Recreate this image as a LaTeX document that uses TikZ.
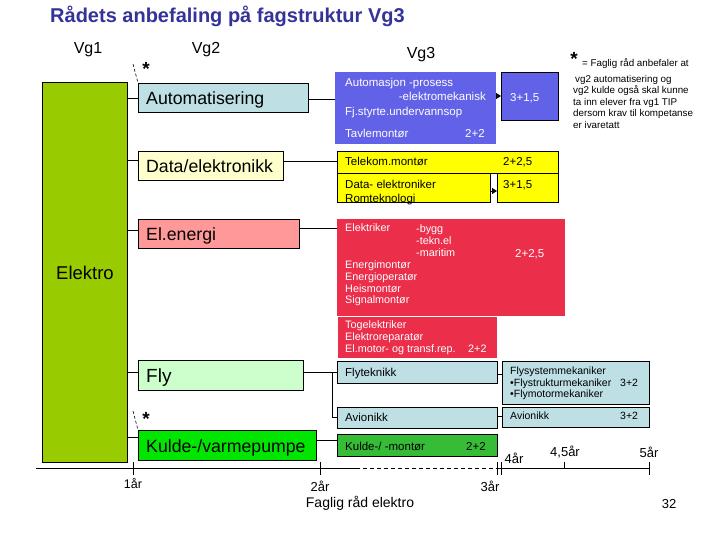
\documentclass[tikz,border=0pt]{standalone}
\usepackage{fontspec}
\setmainfont{Liberation Sans}
\usetikzlibrary{arrows.meta}
\definecolor{titleblue}{HTML}{333399}
\definecolor{elgreen}{HTML}{99CC00}
\definecolor{lblue}{HTML}{BEDFE4}
\definecolor{lyellow}{HTML}{FFFFCC}
\definecolor{lpink}{HTML}{FF9999}
\definecolor{mint}{HTML}{CCFFCC}
\definecolor{bgreen}{HTML}{00E600}
\definecolor{vblue}{HTML}{6262E8}
\definecolor{vyellow}{HTML}{FFFF00}
\definecolor{vred}{HTML}{EB2F4B}
\definecolor{mgreen}{HTML}{36BC36}
\begin{document}
\begin{tikzpicture}[x=1pt,y=-1pt,
  box/.style={draw=black, line width=0.8pt, inner sep=0pt, outer sep=0pt, anchor=north west},
  nobox/.style={inner sep=0pt, outer sep=0pt, anchor=north west},
  conn/.style={line width=0.8pt},
  tri/.style={line width=0.8pt, -{Triangle[length=5pt,width=6pt]}},
  ttl/.style={font=\fontsize{20}{22}\selectfont\bfseries, text=titleblue, anchor=west, inner sep=0pt},
  hdr/.style={font=\fontsize{16}{18}\selectfont, inner sep=0pt},
  lbl/.style={anchor=base west, inner sep=0pt},
  big/.style={lbl, font=\fontsize{17.7}{20}\selectfont, yshift=-6.4pt},
  mid/.style={lbl, font=\fontsize{11.5}{13}\selectfont, yshift=-4.1pt},
  sml/.style={lbl, font=\fontsize{10.8}{12}\selectfont, yshift=-3.9pt},
  fsml/.style={lbl, font=\fontsize{10.5}{12}\selectfont, yshift=-3.8pt},
  note/.style={lbl, font=\fontsize{9.8}{11}\selectfont, yshift=-3.5pt},
  yr/.style={font=\fontsize{13}{15}\selectfont, inner sep=0pt},
  star/.style={font=\fontsize{19}{20}\selectfont\bfseries, inner sep=0pt}
]
\useasboundingbox (0,0) rectangle (720,540);
\fill[white] (0,0) rectangle (720,540);

% title and headers
\node[ttl] (title) at (50,16) {Rådets anbefaling på fagstruktur Vg3};
\node[hdr] (hvg1) at (88,50) {Vg1};
\node[hdr] (hvg2) at (206,50) {Vg2};
\node[hdr] (hvg3) at (421,55) {Vg3};

% Vg1
\node[box, fill=elgreen, minimum width=85, minimum height=380] (elektro) at (42,82) {};
\node[font=\fontsize{18.5}{20}\selectfont, inner sep=0pt] (elektrot) at (85,273) {Elektro};

% Vg2 boxes
\node[box, fill=lblue, minimum width=170, minimum height=29] (auto) at (138,83) {};
\node[big] (autot) at (146,98) {Automatisering};
\node[box, fill=lyellow, minimum width=145, minimum height=29] (data) at (138,151) {};
\node[big] (datat) at (146,166) {Data/elektronikk};
\node[box, fill=lpink, minimum width=161, minimum height=29] (elen) at (138,219) {};
\node[big] (elent) at (146,234) {El.energi};
\node[box, fill=mint, minimum width=165, minimum height=30] (fly) at (138,360) {};
\node[big, font=\fontsize{19}{21}\selectfont] (flyt0) at (146,376) {Fly};
\node[box, fill=bgreen, minimum width=178, minimum height=30] (kulde) at (138,430) {};
\node[big] (kuldet) at (146,446) {Kulde-/varmepumpe};

% stars near Vg2
\node[star] (star1) at (146,69) {*};
\node[star] (star2) at (146,419) {*};
\coordinate (s1) at (133,64);
\coordinate (s2) at (133,411);
\draw[densely dashed, line width=0.6pt] (s1) -- (auto.north west);
\draw[densely dashed, line width=0.6pt] (s2) -- (kulde.north west);

% Vg3 boxes
\node[nobox, fill=vblue, minimum width=161, minimum height=72] (autoA) at (335,72) {};
\node[box, fill=vblue, minimum width=57, minimum height=48] (autoS) at (501,72) {};
\node[mid, text=white] (a1) at (345,82) {Automasjon -prosess};
\node[mid, text=white, anchor=base east] (a2) at (486,96) {-elektromekanisk};
\node[mid, text=white] (a3) at (345,111) {Fj.styrte.undervannsop};
\node[mid, text=white] (a4) at (345,133) {Tavlemontør};
\node[mid, text=white] (a5) at (465,133) {2+2};
\node[mid, text=white] (a6) at (510,97) {3+1,5};

\node[box, fill=vyellow, minimum width=221, minimum height=22] (tele) at (337,151) {};
\node[mid] (te1) at (345,161) {Telekom.montør};
\node[mid] (te2) at (503,161) {2+2,5};
\node[box, fill=vyellow, minimum width=153, minimum height=29] (dataA) at (337,173) {};
\node[box, fill=vyellow, minimum width=61, minimum height=29] (dataS) at (497,173) {};
\node[mid] (d1) at (345,184) {Data- elektroniker};
\node[mid] (d2) at (345,198) {Romteknologi};
\node[mid] (d3) at (503,184) {3+1,5};

\node[nobox, fill=vred, minimum width=228, minimum height=97] (redA) at (337,219) {};
\node[nobox, fill=vred, draw=white, line width=0.6pt, minimum width=160, minimum height=42] (redB) at (337,316) {};
\node[sml, text=white] (r1) at (345,228) {Elektriker};
\node[sml, text=white] (r2) at (416,229) {-bygg};
\node[sml, text=white] (r3) at (416,241) {-tekn.el};
\node[sml, text=white] (r4) at (416,253) {-maritim};
\node[mid, text=white] (r5) at (515,253) {2+2,5};
\node[sml, text=white] (r6) at (345,265) {Energimontør};
\node[sml, text=white] (r7) at (345,277) {Energioperatør};
\node[sml, text=white] (r8) at (345,289) {Heismontør};
\node[sml, text=white] (r9) at (345,300) {Signalmontør};
\node[sml, text=white] (r10) at (345,325) {Togelektriker};
\node[sml, text=white] (r11) at (345,337) {Elektroreparatør};
\node[sml, text=white] (r12) at (345,349) {El.motor- og transf.rep.};
\node[sml, text=white] (r13) at (468,349) {2+2};

\node[box, fill=lblue, minimum width=160, minimum height=22] (flyt) at (337,361) {};
\node[mid] (f1) at (345,372) {Flyteknikk};
\node[box, fill=lblue, minimum width=160, minimum height=21] (avio) at (337,407) {};
\node[mid] (f2) at (345,417) {Avionikk};
\node[box, fill=mgreen, minimum width=160, minimum height=22] (kmont) at (337,434) {};
\node[mid] (k1) at (345,446) {Kulde-/ -montør};
\node[mid] (k2) at (466,446) {2+2};

\node[box, fill=lblue, minimum width=147, minimum height=43] (flys) at (502,361) {};
\node[fsml] (g1) at (510,371) {Flysystemmekaniker};
\node[fsml] (g2) at (510,383) {•Flystrukturmekaniker};
\node[fsml] (g3) at (510,394) {•Flymotormekaniker};
\node[fsml] (g4) at (620,383) {3+2};
\node[box, fill=lblue, minimum width=147, minimum height=20] (avio2) at (502,407) {};
\node[fsml] (g5) at (510,416) {Avionikk};
\node[fsml] (g6) at (620,416) {3+2};

% connectors Vg1 -> Vg2
\draw[conn] (elektro.east |- 0,98) -- (auto.west |- 0,98);
\draw[conn] (elektro.east |- 0,160) -- (data.west |- 0,160);
\draw[conn] (elektro.east |- 0,230) -- (elen.west |- 0,230);
\draw[conn] (elektro.east |- 0,372) -- (fly.west |- 0,372);
\draw[conn] (elektro.east |- 0,437) -- (kulde.west |- 0,437);

% connectors Vg2 -> Vg3
\draw[conn] (auto.east |- 0,99) -- (autoA.west |- 0,99);
\draw[conn] (data.east |- 0,161) -- (tele.west |- 0,161);
\draw[conn] (elen.east |- 0,228) -- (redA.west |- 0,228);
\draw[conn] (fly.east |- 0,372) -- (flyt.west |- 0,372);
\draw[conn] (332,372) |- (avio.west |- 0,417);
\draw[conn] (kulde.east |- 0,440) -- (kmont.west |- 0,440);
\draw[conn] (flyt.east |- 0,374) -- (flys.west |- 0,374);
\draw[conn] (avio.east |- 0,416) -- (avio2.west |- 0,416);

% arrows to the short boxes
\draw[tri] (autoA.east |- 0,96) -- (autoS.west |- 0,96);
\draw[tri] (dataA.east |- 0,191) -- (dataS.west |- 0,191);

% note
\node[star] (star3) at (574,59) {*};
\node[note] (n0) at (582,63) {= Faglig råd anbefaler at};
\node[note] (n1) at (575,79) {vg2 automatisering og};
\node[note] (n2) at (573,90) {vg2 kulde også skal kunne};
\node[note] (n3) at (573,102) {ta inn elever fra vg1 TIP};
\node[note] (n4) at (573,113) {dersom krav til kompetanse};
\node[note] (n5) at (573,125) {er ivaretatt};

% timeline
\coordinate (t0) at (36,468);
\coordinate (t1) at (356,468);
\coordinate (t2) at (497,468);
\coordinate (t3) at (501,468);
\coordinate (t4) at (650,468);
\draw[conn] (t0) -- (t1);
\draw[conn, dash pattern=on 4pt off 3pt] (t1) -- (t2);
\draw[conn] (t2) -- (t4);
\draw[conn] (133,462) -- (133,475);
\draw[conn] (320,462) -- (320,475);
\draw[conn] (497,462) -- (497,475);
\draw[conn] (501,462) -- (501,475);
\draw[conn] (564,462) -- (564,468);
\draw[conn] (649,462) -- (649,475);
\node[yr, font=\fontsize{12.5}{14}\selectfont] (y1) at (133,484) {1år};
\node[yr] (y2) at (320,486) {2år};
\node[yr] (y3) at (490,486) {3år};
\node[yr] (y4) at (514,458) {4år};
\node[yr] (y45) at (565,452) {4,5år};
\node[yr] (y5) at (649,452) {5år};
\node[yr, font=\fontsize{14}{16}\selectfont] (foot) at (360,503) {Faglig råd elektro};
\node[yr] (pg) at (669,504) {32};
\end{tikzpicture}
\end{document}
